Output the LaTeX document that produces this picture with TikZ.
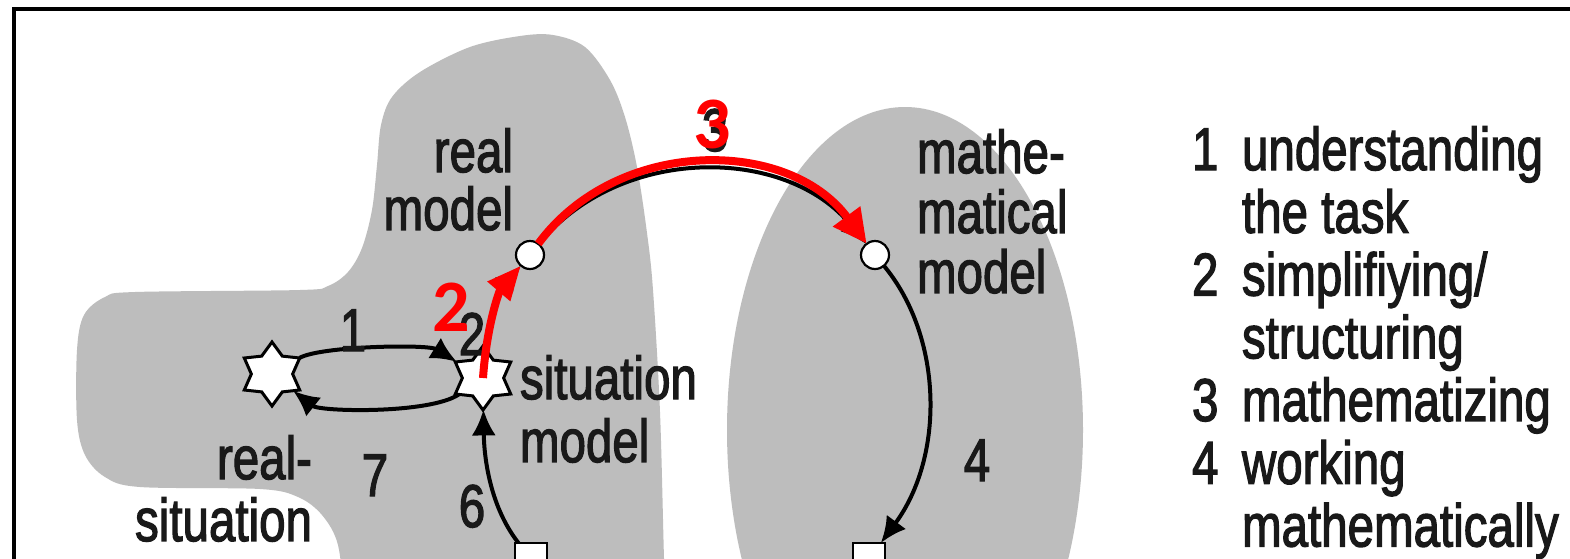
\documentclass[tikz,border=0pt]{standalone}
\usepackage{fontspec}
\setmainfont{Liberation Sans}
\newfontfamily\redfont{Carlito}
\font\heavyfont="Liberation Sans:embolden=2.3" at 23.75pt
\usepackage{graphicx}
\usetikzlibrary{shapes.geometric,arrows.meta}
\definecolor{blob}{RGB}{189,189,189}
\definecolor{txt}{RGB}{25,25,25}
\newcommand\rightlines[2]{\scalebox{1}[1.27]{\vtop{\baselineskip=#1\lineskiplimit=-100pt\lineskip=0pt\halign{\hfil##\cr#2\crcr}}}}
\newcommand\leftlines[2]{\scalebox{1}[1.27]{\vtop{\baselineskip=#1\lineskiplimit=-100pt\lineskip=0pt\halign{##\hfil\cr#2\crcr}}}}
\newcommand\legendtext{\scalebox{1}[1.27]{\vtop{\baselineskip=24.7pt\lineskiplimit=-100pt\lineskip=0pt\halign{\hbox to 25pt{##\hfil}&##\hfil\cr
1&understanding\cr &the task\cr 2&simplifiying/\cr &structuring\cr 3&mathematizing\cr 4&working\cr &mathematically\crcr}}}}
\newcommand\tall[1]{\scalebox{1}[1.27]{#1}}
\begin{document}
\begin{tikzpicture}[x=0.5pt,y=-0.5pt,
  every node/.style={inner sep=0pt,outer sep=0pt},
  lab/.style={font=\heavyfont, text=txt},
  redlab/.style={font=\redfont\bfseries\fontsize{37pt}{40pt}\selectfont, text=red},
  starnode/.style={star, star points=6, star point ratio=1.55, minimum size=32pt, draw=black, fill=white, line width=1.5pt},
  dot/.style={circle, minimum size=14pt, draw=black, fill=white, line width=1.1pt},
  sq/.style={rectangle, minimum size=16pt, draw=black, fill=white, line width=1.1pt},
  blk/.style={line width=2pt, -{Latex[length=13pt,width=12pt]}},
  redarr/.style={line width=4pt, red, -{Triangle[length=17pt,width=16pt]}},
  redarrb/.style={line width=4pt, red, -{Triangle[length=17pt,width=14pt]}}]
\path[use as bounding box] (0,0) rectangle (1570,558);
\fill[white] (0,0) rectangle (1570,558);
\clip (0,0) rectangle (1570,558);
% gray regions
\fill[blob] plot[smooth cycle, tension=0.55] coordinates {(343,600) (338,545) (322,515) (298,497) (260,489) (140,487) (105,477) (85,455) (77,420) (77,350) (84,315) (105,297) (135,292) (300,290) (328,286) (348,272) (362,248) (372,210) (377,165) (381,125) (392,97) (420,72) (470,47) (520,36) (553,35) (585,47) (610,80) (625,117) (637,167) (647,233) (653,290) (660,412) (664,558) (666,600) (666,700) (345,700)};
\fill[blob] (905,430) ellipse [x radius=89pt, y radius=161.5pt];
% frame
\draw[line width=2pt, line join=miter] (14,700) -- (14,8.5) -- (1700,8.5);
% nodes
\node[dot] (rm) at (530,255) {};
\node[dot] (mm) at (875,255) {};
\node[starnode] (rsit) at (272,374) {};
\node[starnode] (sm) at (483,378) {};
\node[sq] (ls) at (531,559) {};
\node[sq] (rs) at (869,559) {};
% black arrows
\draw[blk] (rm) .. controls (619,145) and (786,145) .. (mm);
\draw[blk] (mm) .. controls (943,337) and (945,456) .. (rs);
\draw[blk] (ls) .. controls (488,504) and (484,452) .. (sm);
\draw[blk] (rsit) .. controls (320,346) and (428,344) .. (sm);
\draw[blk] (sm) .. controls (430,414) and (320,412) .. (rsit);
\draw[blk] (sm) .. controls (487,322) and (500,290) .. (rm);
% texts
\node[lab, anchor=base east] (treal) at (513,172) {\rightlines{22.8pt}{real\cr model}};
\node[lab, anchor=base west] (tmath) at (917,173) {\leftlines{23.6pt}{mathe-\cr matical\cr model}};
\node[lab, anchor=base west] (tsit) at (520,399) {\leftlines{24.8pt}{situation\cr model}};
\node[lab, anchor=base east] (trs) at (312,479) {\rightlines{24.4pt}{real-\cr situation}};
\node[lab, anchor=base west] (legend) at (1192,170) {\legendtext};
\node[lab, anchor=base] (n1) at (353,351) {\tall{1}};
\node[lab, anchor=base] (n2) at (472,355) {\tall{2}};
\node[lab, anchor=base] (n3) at (715,151) {\tall{3}};
\node[lab, anchor=base] (n4) at (977,481) {\tall{4}};
\node[lab, anchor=base] (n6) at (472,527) {\tall{6}};
\node[lab, anchor=base] (n7) at (375,496) {\tall{7}};
% red overlay
\draw[redarrb] (sm.center) .. controls (487,322) and (500,290) .. (rm);
\draw[redarr] (rm) .. controls (617,137) and (788,137) .. (mm);
\node[redlab] (r2) at (451,307) {2};
\node[redlab] (r3) at (712,124) {3};
\end{tikzpicture}
\end{document}
